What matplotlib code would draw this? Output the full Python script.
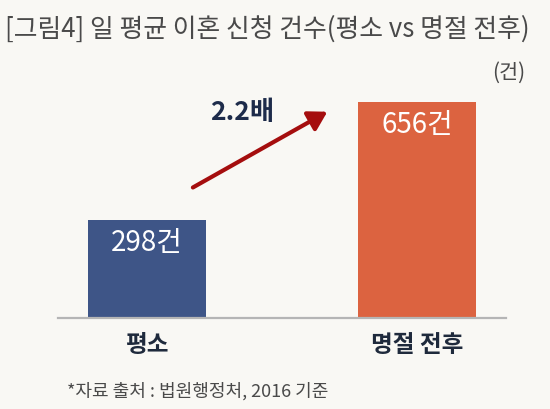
import matplotlib
matplotlib.use("Agg")
import matplotlib.pyplot as plt

plt.rcParams['font.family'] = ['Noto Sans CJK KR', 'DejaVu Sans']

categories = ["평소", "명절 전후"]
values = [298, 656]
value_labels = ["298건", "656건"]
ratio_label = "2.2배"
title = "[그림4] 일 평균 이혼 신청 건수(평소 vs 명절 전후)"
unit = "(건)"
source = "*자료 출처 : 법원행정처, 2016 기준"

BG = "#f9f8f4"
BAR_COLORS = ["#3e5587", "#dc6340"]

W, H = 550, 410
fig = plt.figure(figsize=(W / 100, H / 100), dpi=100, facecolor=BG)
ax = fig.add_axes([58 / W, (H - 319) / H, 448 / W, 216 / H])
ax.set_facecolor(BG)

x = range(len(categories))
ax.bar(x, values, width=0.437, color=BAR_COLORS, zorder=2)
ax.set_xlim(-0.3296, 1.3296)
ax.set_ylim(0, max(values))

for xi, v, lab in zip(x, values, value_labels):
    ax.annotate(lab, (xi, v), xytext=(0, -22), textcoords="offset pixels",
                ha="center", va="center", color="white", fontsize=20,
                fontweight="medium")

# arrow between bars
top = max(values)
ax.annotate("", xy=(0.668, values[1] - 0.045 * top),
            xytext=(0.170, values[0] + 0.15 * top),
            arrowprops=dict(arrowstyle="-|>,head_length=1.1,head_width=0.65",
                            color="#a50e0e", lw=3.0, shrinkA=0, shrinkB=0))
ax.text(0.352, 0.958 * top, ratio_label, ha="center", va="center",
        fontsize=19, fontweight="bold", color="#1d2b4a")

for s in ["top", "right", "left"]:
    ax.spines[s].set_visible(False)
ax.spines["bottom"].set_color("#b5b5b5")
ax.spines["bottom"].set_linewidth(1.6)
ax.set_yticks([])
ax.set_xticks(list(x))
ax.set_xticklabels(categories, fontsize=17, fontweight="bold", color="#1f2a3c")
ax.tick_params(axis="x", length=0, pad=10)

fig.text(5 / W, 1 - 29 / H, title, ha="left", va="center", fontsize=18.6,
         color="#4a4a4a")
fig.text(525 / W, 1 - 73 / H, unit, ha="right", va="center", fontsize=15,
         color="#4a4a4a")
fig.text(67 / W, 1 - 391 / H, source, ha="left", va="center", fontsize=13,
         color="#4a4a4a")

fig.savefig("out.png", dpi=100, facecolor=BG)
